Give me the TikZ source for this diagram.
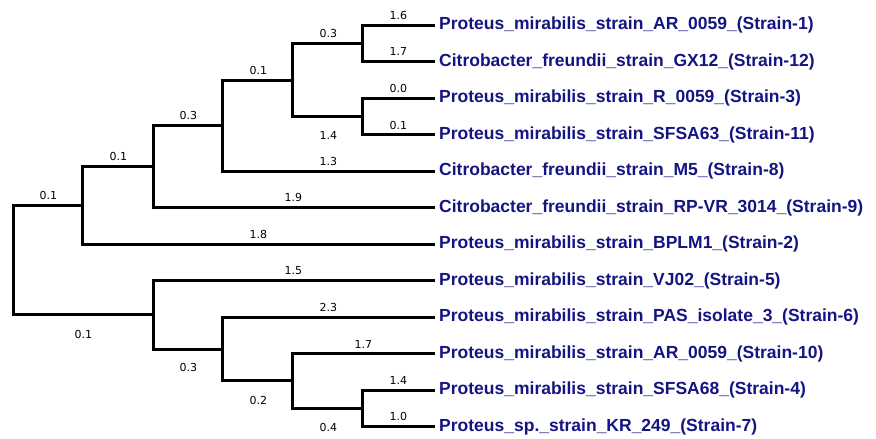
\documentclass[tikz,border=0pt]{standalone}
\usepackage{fontspec}
\setmainfont{Liberation Sans}
\newfontfamily\numfont{DejaVu Sans}
\definecolor{navy}{RGB}{20,20,130}
\begin{document}
\begin{tikzpicture}[x=1pt,y=-1pt,
  br/.style={line width=3pt},
  leaf/.style={anchor=west,inner sep=0pt,xshift=4pt,text=navy,font=\fontsize{17.5}{20}\selectfont\bfseries},
  lab/.style={inner sep=0pt,font=\numfont\fontsize{11}{13}\selectfont}]
\useasboundingbox (0,0) rectangle (876,439);
% internal nodes
\coordinate (R) at (13.3,260);
\coordinate (A) at (82.7,205.6);
\coordinate (B) at (153.3,166.5);
\coordinate (C) at (222.7,125.8);
\coordinate (D) at (292.7,80.3);
\coordinate (E) at (362.7,43.3);
\coordinate (F) at (362.7,116.7);
\coordinate (G) at (153.3,314.7);
\coordinate (H) at (222.7,349);
\coordinate (I) at (292.7,380.8);
\coordinate (J) at (362.7,408.6);
% leaves
\foreach \i in {1,...,12}{\coordinate (L\i) at (435,{25+36.5*(\i-1)});}
% branches
\draw[br] (R) |- (A);
\draw[br] (R) |- (G);
\draw[br] (A) |- (B);
\draw[br] (A) |- (L7);
\draw[br] (B) |- (C);
\draw[br] (B) |- (L6);
\draw[br] (C) |- (D);
\draw[br] (C) |- (L5);
\draw[br] (D) |- (E);
\draw[br] (D) |- (F);
\draw[br] (E) |- (L1);
\draw[br] (E) |- (L2);
\draw[br] (F) |- (L3);
\draw[br] (F) |- (L4);
\draw[br] (G) |- (L8);
\draw[br] (G) |- (H);
\draw[br] (H) |- (L9);
\draw[br] (H) |- (I);
\draw[br] (I) |- (L10);
\draw[br] (I) |- (J);
\draw[br] (J) |- (L11);
\draw[br] (J) |- (L12);
% leaf names
\node[leaf] (n1) at (L1) {Proteus\_mirabilis\_strain\_AR\_0059\_(Strain-1)};
\node[leaf] (n2) at (L2) {Citrobacter\_freundii\_strain\_GX12\_(Strain-12)};
\node[leaf] (n3) at (L3) {Proteus\_mirabilis\_strain\_R\_0059\_(Strain-3)};
\node[leaf] (n4) at (L4) {Proteus\_mirabilis\_strain\_SFSA63\_(Strain-11)};
\node[leaf] (n5) at (L5) {Citrobacter\_freundii\_strain\_M5\_(Strain-8)};
\node[leaf] (n6) at (L6) {Citrobacter\_freundii\_strain\_RP-VR\_3014\_(Strain-9)};
\node[leaf] (n7) at (L7) {Proteus\_mirabilis\_strain\_BPLM1\_(Strain-2)};
\node[leaf] (n8) at (L8) {Proteus\_mirabilis\_strain\_VJ02\_(Strain-5)};
\node[leaf] (n9) at (L9) {Proteus\_mirabilis\_strain\_PAS\_isolate\_3\_(Strain-6)};
\node[leaf] (n10) at (L10) {Proteus\_mirabilis\_strain\_AR\_0059\_(Strain-10)};
\node[leaf] (n11) at (L11) {Proteus\_mirabilis\_strain\_SFSA68\_(Strain-4)};
\node[leaf] (n12) at (L12) {Proteus\_sp.\_strain\_KR\_249\_(Strain-7)};
% branch lengths
\node[lab] (b1) at (398.3,15.7) {1.6};
\node[lab] (b2) at (398.3,51.7) {1.7};
\node[lab] (b3) at (398.3,88.3) {0.0};
\node[lab] (b4) at (398.3,125) {0.1};
\node[lab] (bE) at (328.3,33.3) {0.3};
\node[lab] (bF) at (328.3,135.7) {1.4};
\node[lab] (bD) at (258.3,70.7) {0.1};
\node[lab] (b5) at (328.3,161) {1.3};
\node[lab] (bC) at (188.3,115.7) {0.3};
\node[lab] (bB) at (118.3,156.7) {0.1};
\node[lab] (b6) at (293.3,197.3) {1.9};
\node[lab] (bA) at (48.3,195) {0.1};
\node[lab] (b7) at (258.3,234) {1.8};
\node[lab] (bG) at (83.3,334) {0.1};
\node[lab] (b8) at (293.3,271) {1.5};
\node[lab] (bH) at (188.3,367.3) {0.3};
\node[lab] (b9) at (328.3,307.3) {2.3};
\node[lab] (bI) at (258.3,400) {0.2};
\node[lab] (b10) at (363.3,344) {1.7};
\node[lab] (bJ) at (328.3,427.3) {0.4};
\node[lab] (b11) at (398.3,380) {1.4};
\node[lab] (b12) at (398.3,416.7) {1.0};
\end{tikzpicture}
\end{document}
